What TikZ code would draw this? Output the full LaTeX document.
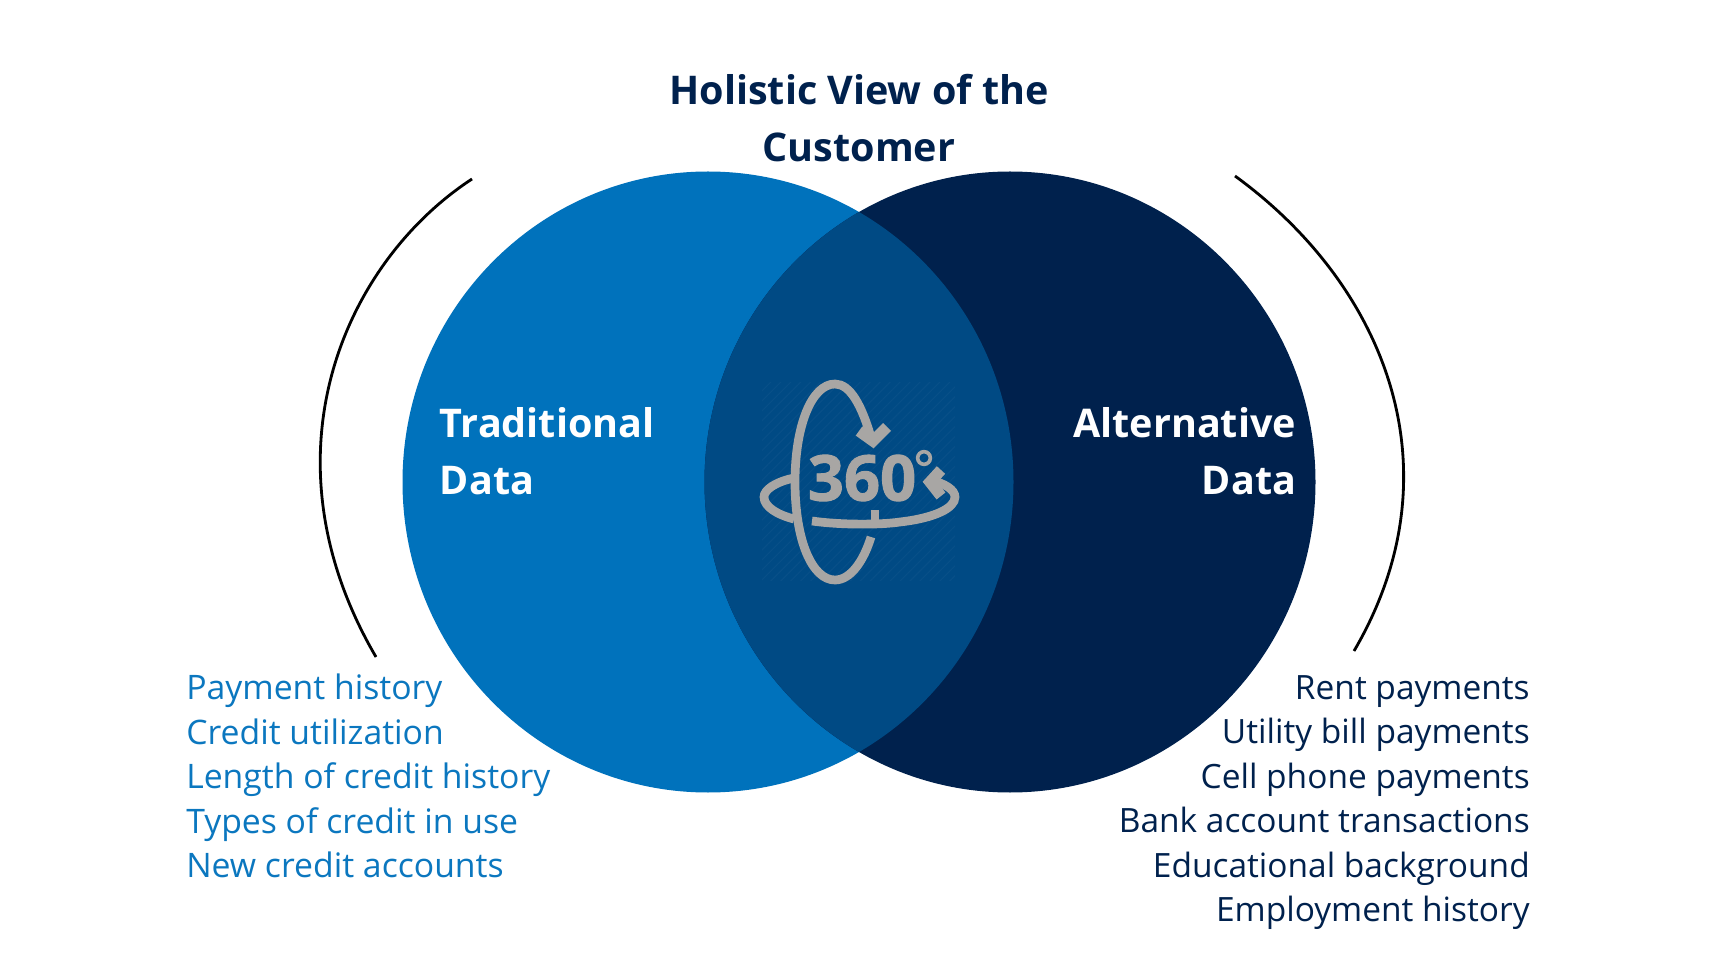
\documentclass[tikz,border=0pt]{standalone}
\usepackage{fontspec}
\setmainfont{Open Sans}
\usepackage{tikz}
\usetikzlibrary{shapes.geometric, arrows.meta, patterns.meta}

\definecolor{tradblue}{HTML}{0072BC}
\definecolor{altnavy}{HTML}{00214D}
\definecolor{overlapblue}{HTML}{004A84}
\definecolor{listblue}{HTML}{0B77BF}
\definecolor{icongray}{HTML}{A8A6A4}

\begin{document}
\begin{tikzpicture}[
        x=0.025cm, y=-0.025cm,
        venn/.style={ellipse, inner sep=0pt, minimum width=611*0.025cm, minimum height=621*0.025cm},
        heading/.style={font=\fontsize{28.1}{40.5}\selectfont\bfseries, align=center, text=altnavy},
        venntext/.style={font=\fontsize{28.1}{40.5}\selectfont\bfseries, text=white},
        listing/.style={font=\fontsize{24}{31.65}\selectfont},
        bracket/.style={line width=2pt, black},
        ring/.style={line width=6.2pt, icongray},
        ringtip/.style={line width=8pt, icongray, miter limit=10}
    ]
    \useasboundingbox (0, 0) rectangle (1718, 964);

    % The two data circles and their overlap
    \node[venn, fill=tradblue] (trad) at (708, 482) {};
    \node[venn, fill=altnavy] (alt) at (1010, 482) {};
    \begin{scope}
        \clip (708, 482) ellipse [x radius=305.5, y radius=310.5];
        \node[venn, fill=overlapblue] (both) at (1010, 482) {};
    \end{scope}

    % Title and circle labels
    \node[heading] (title) at (859, 118) {Holistic View of the\\Customer};
    \node[venntext, anchor=west, align=left] (tradlabel) at (435, 451) {Traditional\\Data};
    \node[venntext, anchor=east, align=right] (altlabel) at (1301, 451) {Alternative\\Data};

    % Lists under the circles
    \node[listing, text=listblue, anchor=north west, align=left, inner sep=0pt] (tradlist) at (186, 674) {Payment history\\Credit utilization\\Length of credit history\\Types of credit in use\\New credit accounts};
    \node[listing, text=altnavy, font=\fontsize{23.8}{31.65}\selectfont, anchor=north east, align=right, inner sep=0pt] (altlist) at (1530, 675) {Rent payments\\Utility bill payments\\Cell phone payments\\Bank account transactions\\Educational background\\Employment history};

    % Brackets either side
    \coordinate (ltop) at (472, 179);
    \coordinate (lbot) at (376, 657);
    \coordinate (rtop) at (1235, 176);
    \coordinate (rbot) at (1354, 651);
    \draw[bracket] (ltop) .. controls (345, 262) and (258, 455) .. (lbot);
    \draw[bracket] (rtop) .. controls (1385, 285) and (1460, 470) .. (rbot);

    % 360 icon
    \fill[pattern={Lines[angle=45, distance=5pt, line width=0.8pt]}, pattern color=overlapblue!97!white] (762, 383) rectangle (955, 580);
    \node[font=\fontsize{45}{45}\selectfont\bfseries\addfontfeature{FakeBold=1.5}, text=icongray, inner sep=0pt] (deg) at (862, 478) {360};
    \node[draw=icongray, circle, line width=2.6pt, minimum size=9pt, inner sep=0pt] (degring) at (924, 458) {};
    \draw[ring] (872, 441) .. controls (862, 405) and (850, 384) .. (835, 384) .. controls (812, 384) and (795, 425) .. (795, 482) .. controls (795, 540) and (812, 580) .. (835, 580) .. controls (851, 580) and (864, 560) .. (871, 537);
    \draw[ringtip] (859, 431) -- (873, 441) -- (887, 427);
    \draw[ring] (794, 478) .. controls (775, 482) and (764, 490) .. (764, 497) .. controls (764, 507) and (778, 515) .. (794, 519);
    \draw[ring] (812, 521) .. controls (840, 525) and (880, 525) .. (900, 522) .. controls (935, 518) and (955, 508) .. (955, 497) .. controls (955, 490) and (945, 483) .. (929, 480);
    \draw[ringtip] (941, 470) -- (930, 482) -- (941, 496);
    \draw[ring] (875, 510) -- (875, 522);
\end{tikzpicture}
\end{document}
